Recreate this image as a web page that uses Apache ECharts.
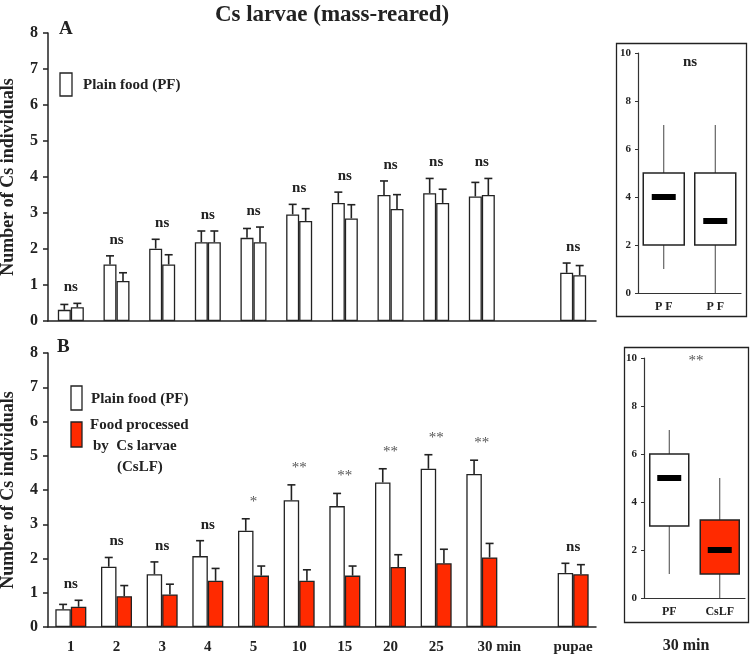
<!DOCTYPE html>
<html>
<head>
<meta charset="utf-8">
<script src="https://cdn.jsdelivr.net/npm/echarts@6/dist/echarts.min.js"></script>
<style>html,body{margin:0;padding:0;background:#fff;}#c{width:750px;height:656px;}</style>
</head>
<body>
<div id="c"></div>
<script>
// ---------- data ----------
const categories = ['1','2','3','4','5','10','15','20','25','30 min','','pupae'];
const yTicks = [0,1,2,3,4,5,6,7,8];

const aPF1 = [0.31,1.57,2.01,2.19,2.31,2.96,3.28,3.50,3.55,3.46,null,1.34];
const aPF1Err = [0.15,0.24,0.26,0.31,0.26,0.28,0.30,0.39,0.41,0.39,null,0.27];
const aPF2 = [0.38,1.11,1.57,2.19,2.19,2.78,2.85,3.11,3.28,3.50,null,1.27];
const aPF2Err = [0.11,0.23,0.27,0.31,0.42,0.34,0.38,0.40,0.38,0.46,null,0.27];
const aSig = ['ns','ns','ns','ns','ns','ns','ns','ns','ns','ns','','ns'];

const bPF = [0.52,1.76,1.54,2.07,2.81,3.70,3.53,4.22,4.62,4.47,null,1.58];
const bPFErr = [0.14,0.27,0.36,0.45,0.35,0.45,0.37,0.40,0.41,0.40,null,0.28];
const bCsLF = [0.59,0.90,0.95,1.35,1.50,1.35,1.50,1.75,1.86,2.03,null,1.54];
const bCsLFErr = [0.19,0.31,0.30,0.36,0.28,0.32,0.28,0.36,0.41,0.41,null,0.28];
const bSig = ['ns','ns','ns','ns','*','**','**','**','**','**','','ns'];

const boxACats = ['P F','P F'];
const boxA = [[1,2,4,5,7],[0,2,3,5,7]];
const boxASig = 'ns';
const boxBCats = ['PF','CsLF'];
const boxB = [[1,3,5,6,7],[0,1,2,3.25,5]];
const boxBSig = '**';
const boxTicks = [0,2,4,6,8,10];

// ---------- styles ----------
const SERIF = '"Liberation Serif","Times New Roman",serif';
const RED = '#ff2a00';
const INK = '#222';
const BW_A = 13, BW_B = 15.5;

function valueAxis(grid, max, interval, showName){
  return {
    type:'value', gridIndex:grid, min:0, max:max, interval:interval,
    name: showName ? 'Number of Cs individuals' : '',
    nameLocation:'middle', nameGap:31,
    nameTextStyle:{fontFamily:SERIF, fontWeight:'bold', fontSize:18, color:INK},
    axisLine:{show:true, lineStyle:{color:INK, width:1.5}},
    axisTick:{show:true, length:5, lineStyle:{color:INK, width:1.5}},
    axisLabel:{fontFamily:SERIF, fontWeight:'bold', fontSize:16, color:INK, margin:10},
    splitLine:{show:false}
  };
}

function errSeries(grid, vals, errs, k, bw){
  const data = vals.map((v,i)=> v==null ? null : [i, v, v+errs[i]]).filter(d=>d);
  return {
    type:'custom', xAxisIndex:grid, yAxisIndex:grid, z:5, silent:true,
    data:data,
    encode:{x:0, y:[1,2]},
    renderItem:function(params, api){
      const i = api.value(0);
      const p0 = api.coord([i, api.value(1)]);
      const p1 = api.coord([i, api.value(2)]);
      const x = p0[0] + (k-0.5)*bw;
      return {type:'group', children:[
        {type:'line', shape:{x1:x, y1:p0[1], x2:x, y2:p1[1]}, style:{stroke:INK, lineWidth:1.6}},
        {type:'line', shape:{x1:x-4, y1:p1[1], x2:x+4, y2:p1[1]}, style:{stroke:INK, lineWidth:1.6}}
      ]};
    }
  };
}

function sigSeries(grid, sig, v1, e1, v2, e2){
  const data = [];
  sig.forEach((s,i)=>{ if(s){ data.push([i, Math.max(v1[i]+e1[i], v2[i]+e2[i])]); } });
  return {
    type:'custom', xAxisIndex:grid, yAxisIndex:grid, z:6, silent:true,
    data:data, encode:{x:0, y:1},
    renderItem:function(params, api){
      const i = api.value(0);
      const p = api.coord([i, api.value(1)]);
      const s = sig[i];
      const star = s.indexOf('*')>=0;
      return {type:'text', x:p[0], y:p[1] - (star?17:16), style:{
        text:s, align:'center', verticalAlign:'middle',
        font: star ? ('normal 15px '+SERIF) : ('bold 15px '+SERIF),
        fill: star ? '#555' : INK
      }};
    }
  };
}

function boxSeries(grid, boxes, fills, bw){
  return {
    type:'custom', xAxisIndex:grid, yAxisIndex:grid, z:5, silent:true,
    data: boxes.map((b,i)=>[i].concat(b)),
    encode:{x:0, y:[1,2,3,4,5]},
    renderItem:function(params, api){
      const i = api.value(0);
      const c = (v)=>api.coord([i, v]);
      const pMin = c(api.value(1)), pQ1 = c(api.value(2)), pMed = c(api.value(3)),
            pQ3 = c(api.value(4)), pMax = c(api.value(5));
      const x = pMin[0];
      return {type:'group', children:[
        {type:'line', shape:{x1:x, y1:pMin[1], x2:x, y2:pQ1[1]}, style:{stroke:'#444', lineWidth:1}},
        {type:'line', shape:{x1:x, y1:pQ3[1], x2:x, y2:pMax[1]}, style:{stroke:'#444', lineWidth:1}},
        {type:'rect', shape:{x:x-bw/2, y:pQ3[1], width:bw, height:pQ1[1]-pQ3[1]},
          style:{fill:fills[params.dataIndex], stroke:INK, lineWidth:1.5}},
        {type:'rect', shape:{x:x-12, y:pMed[1]-3, width:24, height:6}, style:{fill:'#000'}}
      ]};
    }
  };
}

function boxValueAxis(grid){
  return {
    type:'value', gridIndex:grid, min:boxTicks[0], max:boxTicks[boxTicks.length-1], interval:boxTicks[1]-boxTicks[0],
    axisLine:{show:true, lineStyle:{color:'#333', width:1.2}},
    axisTick:{show:true, length:3, lineStyle:{color:'#333'}},
    axisLabel:{fontFamily:SERIF, fontWeight:'bold', fontSize:11, color:INK, margin:7},
    splitLine:{show:false}
  };
}
function boxCatAxis(grid, cats){
  return {
    type:'category', gridIndex:grid, data:cats,
    axisLine:{show:true, lineStyle:{color:'#333', width:1.2}},
    axisTick:{show:false},
    axisLabel:{fontFamily:SERIF, fontWeight:'bold', fontSize:12, color:INK, margin:8, interval:0}
  };
}

const chart = echarts.init(document.getElementById('c'), null, {renderer:'canvas'});
chart.setOption({
  animation:false,
  backgroundColor:'#fff',
  title:{text:'Cs larvae (mass-reared)', left:327, top:-1, textAlign:'center',
    textStyle:{fontFamily:SERIF, fontWeight:'bold', fontSize:23, color:INK}},
  grid:[
    {left:48, top:33, width:548, height:288, outerBoundsMode:'none', containLabel:false},
    {left:48, top:353, width:548, height:274, outerBoundsMode:'none', containLabel:false},
    {left:638, top:53, width:103, height:240, outerBoundsMode:'none', containLabel:false},
    {left:644, top:358, width:101, height:240, outerBoundsMode:'none', containLabel:false}
  ],
  xAxis:[
    {type:'category', gridIndex:0, data:categories,
      axisLine:{lineStyle:{color:INK, width:1.5}}, axisTick:{show:false}, axisLabel:{show:false}},
    {type:'category', gridIndex:1, data:categories,
      axisLine:{lineStyle:{color:INK, width:1.5}}, axisTick:{show:false},
      axisLabel:{interval:0, fontFamily:SERIF, fontWeight:'bold', fontSize:15, color:INK, margin:13,
        formatter:function(v){ return v==='30 min' ? '{sp|}'+v : v; },
        rich:{sp:{width:35}}}},
    boxCatAxis(2, boxACats),
    boxCatAxis(3, boxBCats)
  ],
  yAxis:[
    valueAxis(0, yTicks[yTicks.length-1], yTicks[1]-yTicks[0], true),
    valueAxis(1, yTicks[yTicks.length-1], yTicks[1]-yTicks[0], true),
    boxValueAxis(2),
    boxValueAxis(3)
  ],
  series:[
    {type:'bar', name:'Plain food (PF)', xAxisIndex:0, yAxisIndex:0, data:aPF1, barWidth:BW_A, barGap:'0%',
      itemStyle:{color:'#fff', borderColor:INK, borderWidth:1.3}},
    {type:'bar', name:'Plain food (PF) 2', xAxisIndex:0, yAxisIndex:0, data:aPF2, barWidth:BW_A, barGap:'0%',
      itemStyle:{color:'#fff', borderColor:INK, borderWidth:1.3}},
    errSeries(0, aPF1, aPF1Err, 0, BW_A),
    errSeries(0, aPF2, aPF2Err, 1, BW_A),
    sigSeries(0, aSig, aPF1, aPF1Err, aPF2, aPF2Err),

    {type:'bar', name:'Plain food (PF)', xAxisIndex:1, yAxisIndex:1, data:bPF, barWidth:BW_B, barGap:'0%',
      itemStyle:{color:'#fff', borderColor:INK, borderWidth:1.3}},
    {type:'bar', name:'CsLF', xAxisIndex:1, yAxisIndex:1, data:bCsLF, barWidth:BW_B, barGap:'0%',
      itemStyle:{color:RED, borderColor:INK, borderWidth:1.3}},
    errSeries(1, bPF, bPFErr, 0, BW_B),
    errSeries(1, bCsLF, bCsLFErr, 1, BW_B),
    sigSeries(1, bSig, bPF, bPFErr, bCsLF, bCsLFErr),

    boxSeries(2, boxA, ['#fff','#fff'], 41),
    boxSeries(3, boxB, ['#fff', RED], 39)
  ],
  graphic:[
    // panel letters
    {type:'text', x:59, y:29, style:{text:'A', font:'bold 19px '+SERIF, fill:INK, verticalAlign:'middle'}},
    {type:'text', x:57, y:347, style:{text:'B', font:'bold 19px '+SERIF, fill:INK, verticalAlign:'middle'}},
    // legend A
    {type:'rect', shape:{x:60, y:73, width:12, height:23}, style:{fill:'#fff', stroke:INK, lineWidth:1.3}},
    {type:'text', x:83, y:85, style:{text:'Plain food (PF)', font:'bold 15px '+SERIF, fill:INK, verticalAlign:'middle'}},
    // legend B
    {type:'rect', shape:{x:71, y:386, width:11, height:24}, style:{fill:'#fff', stroke:INK, lineWidth:1.3}},
    {type:'text', x:91, y:399, style:{text:'Plain food (PF)', font:'bold 15px '+SERIF, fill:INK, verticalAlign:'middle'}},
    {type:'rect', shape:{x:71, y:422, width:11, height:25}, style:{fill:RED, stroke:INK, lineWidth:1.3}},
    {type:'text', x:90, y:425, style:{text:'Food processed', font:'bold 15px '+SERIF, fill:INK, verticalAlign:'middle'}},
    {type:'text', x:93, y:446, style:{text:'by  Cs larvae', font:'bold 15px '+SERIF, fill:INK, verticalAlign:'middle'}},
    {type:'text', x:117, y:467, style:{text:'(CsLF)', font:'bold 15px '+SERIF, fill:INK, verticalAlign:'middle'}},
    // box frames
    {type:'rect', shape:{x:616.5, y:43.5, width:130, height:273}, style:{fill:'none', stroke:INK, lineWidth:1.3}, z:-1},
    {type:'rect', shape:{x:624.5, y:347.5, width:124, height:275}, style:{fill:'none', stroke:INK, lineWidth:1.3}, z:-1},
    // box significance
    {type:'text', x:690, y:62, style:{text:boxASig, font:'bold 15px '+SERIF, fill:INK, align:'center', verticalAlign:'middle'}},
    {type:'text', x:696, y:361, style:{text:boxBSig, font:'normal 15px '+SERIF, fill:'#555', align:'center', verticalAlign:'middle'}},
    {type:'text', x:686, y:646, style:{text:'30 min', font:'bold 16px '+SERIF, fill:INK, align:'center', verticalAlign:'middle'}}
  ]
});
</script>
</body>
</html>
